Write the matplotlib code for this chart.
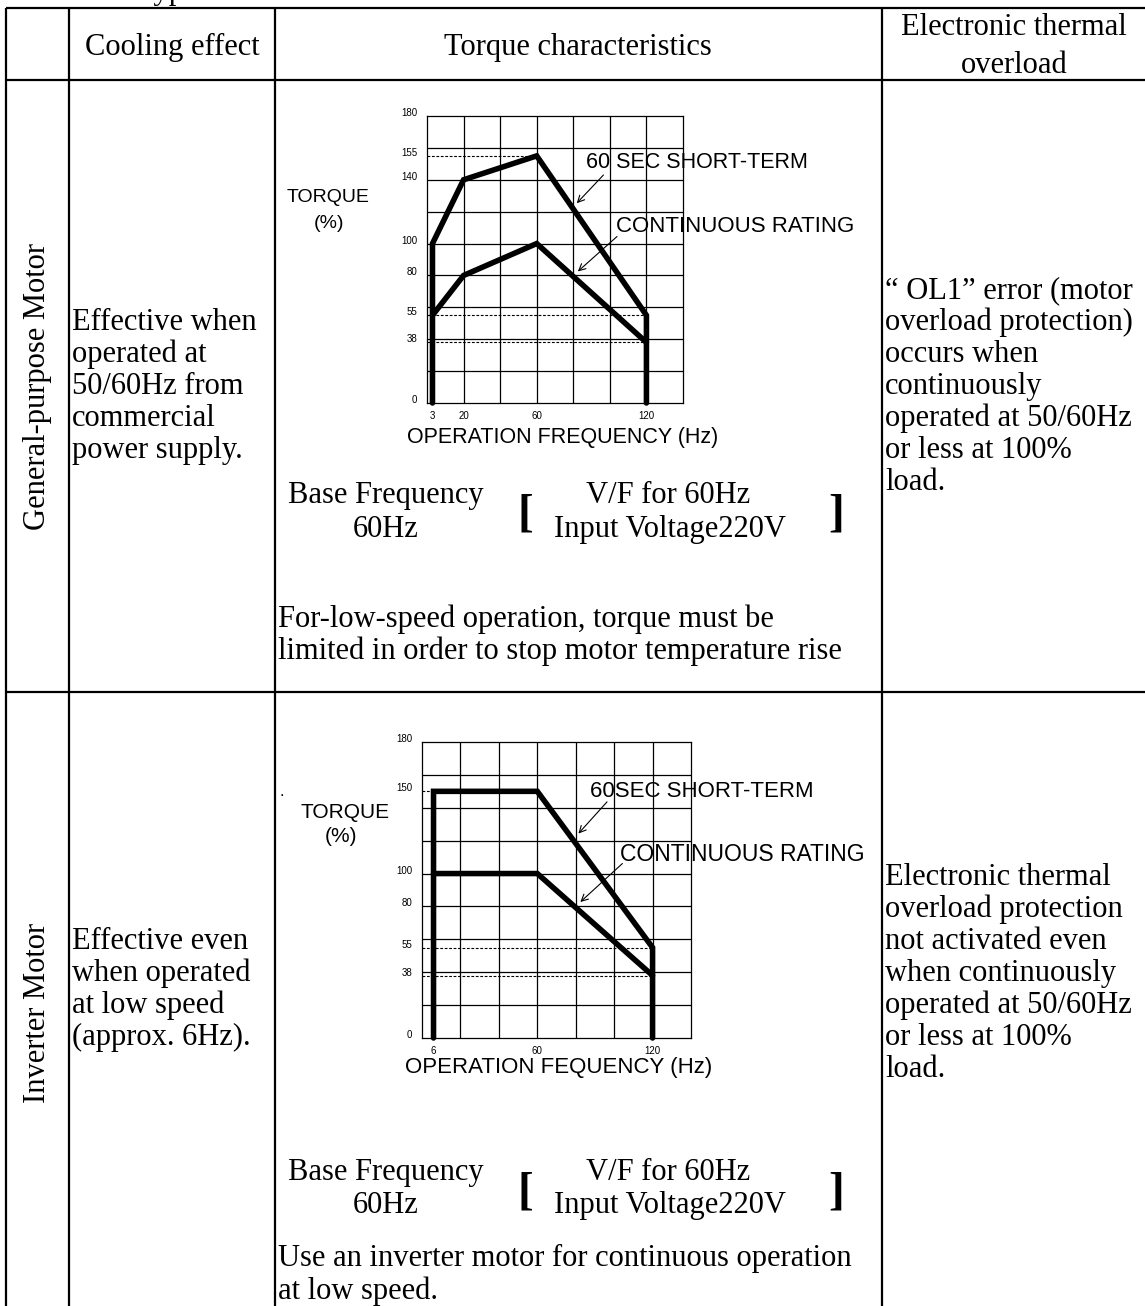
import matplotlib
matplotlib.use('Agg')
import matplotlib.pyplot as plt

W, H = 1145, 1306
SERIF = 'Liberation Serif'
SANS = 'Liberation Sans'

# --- data ---
gp_short_f = [3, 3, 20, 60, 120, 120]
gp_short_t = [0, 100, 140, 155, 55, 0]
gp_cont_f = [3, 20, 60, 120]
gp_cont_t = [55, 80, 100, 38]
gp_yticks = [0, 38, 55, 80, 100, 140, 155, 180]
gp_xticks = [3, 20, 60, 120]
gp_ref_levels = [155, 55, 38]
gp_ref_ends = [60, 120, 120]

inv_short_f = [6, 6, 60, 120, 120]
inv_short_t = [0, 150, 150, 55, 0]
inv_cont_f = [6, 60, 120]
inv_cont_t = [100, 100, 38]
inv_yticks = [0, 38, 55, 80, 100, 150, 180]
inv_xticks = [6, 60, 120]
inv_ref_levels = [150, 55, 38]
inv_ref_ends = [6, 120, 120]

cool_gp = ["Effective when", "operated at", "50/60Hz from", "commercial", "power supply."]
cool_inv = ["Effective even", "when operated", "at low speed", "(approx. 6Hz)."]
ol_gp = ["\u201c OL1\u201d error (motor", "overload protection)", "occurs when", "continuously",
         "operated at 50/60Hz", "or less at 100%", "load."]
ol_inv = ["Electronic thermal", "overload protection", "not activated even", "when continuously",
          "operated at 50/60Hz", "or less at 100%", "load."]

FS = 22  # body text size

fig = plt.figure(figsize=(W / 100, H / 100), dpi=100)
base = fig.add_axes([0, 0, 1, 1])
base.set_xlim(0, W)
base.set_ylim(H, 0)
base.axis('off')


def px_axes(l, t, r, b):
    return fig.add_axes([l / W, 1 - b / H, (r - l) / W, (b - t) / H])


def serif(x, y, s, ha='left', size=FS, **kw):
    base.text(x, y, s, ha=ha, va='baseline', family=SERIF, fontsize=size, **kw)


def bracket(x, y, s):
    base.text(x, y, s, ha='center', va='center', family=SERIF, fontsize=34,
              fontweight='bold')


# --- table frame ---
LW = 1.6
for y in [8, 80, 692]:
    base.plot([6, W], [y, y], color='k', lw=LW, solid_capstyle='butt')
for x in [6, 69, 275, 882]:
    base.plot([x, x], [8, H], color='k', lw=LW, solid_capstyle='butt')

serif(137, -1, "Type")
serif(172, 55, "Cooling effect", ha='center')
serif(578, 55, "Torque characteristics", ha='center')
serif(1014, 35, "Electronic thermal", ha='center')
serif(1014, 73, "overload", ha='center')

base.text(38, 386, "General-purpose Motor", rotation=90, ha='center', va='center',
          family=SERIF, fontsize=FS)
base.text(38, 1013, "Inverter Motor", rotation=90, ha='center', va='center',
          family=SERIF, fontsize=FS)

for i, s in enumerate(cool_gp):
    serif(72, 330 + 32 * i, s)
for i, s in enumerate(ol_gp):
    serif(885, 298 + 32 * i, s)
for i, s in enumerate(cool_inv):
    serif(72, 949 + 32 * i, s)
for i, s in enumerate(ol_inv):
    serif(885, 885 + 32 * i, s)


def torque_chart(rect, sf, st, cf, ct, yticks, xticks, ref_lv, ref_end,
                 short_txt, short_xy, cont_xy, arr1, arr2, fs):
    ax = px_axes(*rect)
    ax.set_xlim(0, 140)
    ax.set_ylim(0, 180)
    ax.vlines(range(20, 140, 20), 0, 180, color='k', lw=0.9)
    ax.hlines(range(20, 180, 20), 0, 140, color='k', lw=0.9)
    for sp in ax.spines.values():
        sp.set_linewidth(0.9)
    ax.set_xticks(xticks)
    ax.set_yticks(yticks)
    ax.tick_params(length=0, labelsize=7)
    ax.tick_params(axis='x', pad=6)
    ax.tick_params(axis='y', pad=7)
    for lab in ax.get_xticklabels() + ax.get_yticklabels():
        lab.set_family(SANS)
    plt.setp(ax.get_yticklabels(), va='baseline')
    for lv, end in zip(ref_lv, ref_end):
        ax.plot([0, end], [lv, lv], color='k', lw=0.8, ls=(0, (2.5, 1.5)))
    for f, t in [(sf, st), (cf, ct)]:
        ax.plot(f, t, color='k', lw=4.0, solid_joinstyle='miter',
                solid_capstyle='round', clip_on=False, zorder=5)
    ax.text(short_xy[0], short_xy[1], short_txt, fontsize=fs, family=SANS, va='center')
    ax.text(cont_xy[0], cont_xy[1], "CONTINUOUS RATING", fontsize=fs + 0.5,
            family=SANS, va='center')
    for tail, head in [arr1, arr2]:
        ax.annotate('', xy=head, xytext=tail,
                    arrowprops=dict(arrowstyle='->', lw=0.8, color='k',
                                    shrinkA=0, shrinkB=0, mutation_scale=12))
    return ax


# --- chart 1: general-purpose motor ---
torque_chart((427, 116, 683, 403), gp_short_f, gp_short_t, gp_cont_f, gp_cont_t,
             gp_yticks, gp_xticks, gp_ref_levels, gp_ref_ends,
             "60 SEC SHORT-TERM", (87.0, 150.6), (103.4, 110.7),
             ((96.5, 143.0), (81.9, 125.3)), ((103.9, 104.4), (82.5, 82.5)), 15.5)
base.text(328, 198, "TORQUE", ha='center', va='center', family=SANS, fontsize=14)
base.text(329, 223, "(%)", ha='center', va='center', family=SANS, fontsize=14)
base.text(563, 438, "OPERATION FREQUENCY (Hz)", ha='center', va='center',
          family=SANS, fontsize=15.5)

serif(386, 503, "Base Frequency", ha='center')
serif(386, 537, "60Hz", ha='center')
serif(668, 503, "V/F for 60Hz", ha='center')
serif(670, 537, "Input Voltage220V", ha='center')
bracket(525, 515, "[")
bracket(836, 515, "]")
serif(278, 627, "For-low-speed operation, torque must be")
serif(278, 659, "limited in order to stop motor temperature rise")

# --- chart 2: inverter motor ---
torque_chart((422, 742, 691, 1038), inv_short_f, inv_short_t, inv_cont_f, inv_cont_t,
             inv_yticks, inv_xticks, inv_ref_levels, inv_ref_ends,
             "60SEC SHORT-TERM", (87.4, 149.6), (103.3, 111.7),
             ((96.3, 143.6), (81.4, 124.3)), ((104.3, 106.1), (82.4, 82.7)), 16)
base.text(282, 792, ".", ha='center', va='center', family=SANS, fontsize=12)
base.text(345, 812, "TORQUE", ha='center', va='center', family=SANS, fontsize=15)
base.text(341, 837, "(%)", ha='center', va='center', family=SANS, fontsize=15)
base.text(559, 1068, "OPERATION FEQUENCY (Hz)", ha='center', va='center',
          family=SANS, fontsize=16)

serif(386, 1180, "Base Frequency", ha='center')
serif(386, 1213, "60Hz", ha='center')
serif(668, 1180, "V/F for 60Hz", ha='center')
serif(670, 1213, "Input Voltage220V", ha='center')
bracket(525, 1193, "[")
bracket(836, 1193, "]")
serif(278, 1266, "Use an inverter motor for continuous operation")
serif(278, 1299, "at low speed.")

fig.savefig('out.png', dpi=100)
plt.close()
